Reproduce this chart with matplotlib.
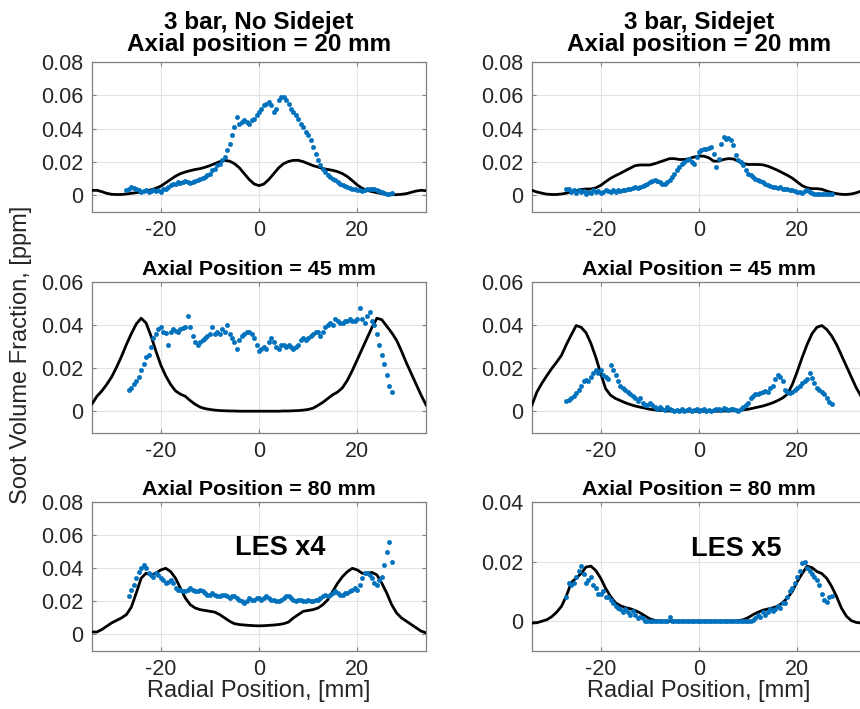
import numpy as np
import matplotlib
matplotlib.use("Agg")
import matplotlib.pyplot as plt
from matplotlib.ticker import FuncFormatter

plt.rcParams['font.family'] = ['Liberation Sans', 'DejaVu Sans']
plt.rcParams['axes.unicode_minus'] = False

# LES profiles, sampled every 1 mm from -34 to 34 mm
les_start, les_step = -34.0, 1.0
les_nosj_20 = [0.003, 0.003, 0.0022, 0.0012, 0.0006, 0.0005, 0.0005, 0.0008, 0.0012, 0.0016,
               0.002, 0.0026, 0.0033, 0.0042, 0.0055, 0.0075, 0.0095, 0.0115, 0.013, 0.014,
               0.0148, 0.0155, 0.016, 0.0168, 0.0178, 0.019, 0.0202, 0.021, 0.0205, 0.019,
               0.0165, 0.013, 0.0095, 0.0068, 0.0058, 0.0068, 0.0095, 0.013, 0.0165, 0.019,
               0.0203, 0.021, 0.021, 0.0202, 0.019, 0.0178, 0.017, 0.016, 0.0155, 0.015,
               0.0142, 0.013, 0.0112, 0.0088, 0.0062, 0.0042, 0.003, 0.0022, 0.0016, 0.001,
               0.0006, 0.0004, 0.0004, 0.0006, 0.001, 0.0018, 0.0026, 0.003, 0.0028]
les_sj_20 = [0.003, 0.002, 0.0013, 0.0007, 0.0005, 0.0005, 0.0008, 0.0013, 0.002, 0.0028,
             0.0035, 0.0038, 0.0038, 0.0045, 0.006, 0.0082, 0.0102, 0.0118, 0.0132, 0.0148,
             0.0163, 0.0178, 0.0182, 0.0182, 0.0182, 0.019, 0.020, 0.021, 0.022, 0.022,
             0.0215, 0.0215, 0.022, 0.023, 0.0235, 0.0235, 0.0225, 0.0205, 0.0205, 0.0215,
             0.022, 0.0218, 0.0205, 0.019, 0.0185, 0.0185, 0.0185, 0.0183, 0.0175, 0.0163,
             0.015, 0.0135, 0.012, 0.0103, 0.008, 0.0058, 0.0045, 0.004, 0.004, 0.0036,
             0.0026, 0.0017, 0.001, 0.0006, 0.0005, 0.0008, 0.0015, 0.0025, 0.0035]
les_nosj_45 = [0.0035, 0.007, 0.0095, 0.0125, 0.016, 0.0205, 0.0255, 0.031, 0.036, 0.0405,
               0.0432, 0.041, 0.035, 0.028, 0.0215, 0.0165, 0.0125, 0.0095, 0.008, 0.007,
               0.005, 0.0033, 0.002, 0.0013, 0.0009, 0.0006, 0.0004, 0.0003, 0.0002, 0.0002,
               0.0001, 0.0001, 0.0001, 0.0001, 0.0001, 0.0001, 0.0001, 0.0001, 0.0001, 0.0002,
               0.0002, 0.0003, 0.0004, 0.0006, 0.0009, 0.0015, 0.0028, 0.0042, 0.006, 0.0077,
               0.009, 0.011, 0.0145, 0.019, 0.024, 0.029, 0.034, 0.039, 0.0432, 0.0425,
               0.0395, 0.0365, 0.033, 0.028, 0.0225, 0.0175, 0.0125, 0.0075, 0.003]
les_sj_45 = [0.003, 0.009, 0.013, 0.0165, 0.0198, 0.0228, 0.026, 0.031, 0.0355, 0.0398,
             0.039, 0.0365, 0.0315, 0.025, 0.0175, 0.0105, 0.0075, 0.006, 0.005, 0.004,
             0.0032, 0.0025, 0.002, 0.0015, 0.001, 0.0007, 0.0005, 0.0003, 0.0002, 0.0002,
             0.0001, 0.0001, 0.0001, 0.0001, 0.0001, 0.0001, 0.0001, 0.0001, 0.0001, 0.0002,
             0.0002, 0.0003, 0.0005, 0.0007, 0.001, 0.0015, 0.002, 0.0025, 0.0032, 0.004,
             0.005, 0.0062, 0.008, 0.0125, 0.0185, 0.025, 0.031, 0.036, 0.039, 0.0398,
             0.038, 0.035, 0.031, 0.026, 0.021, 0.016, 0.011, 0.007, 0.003]
les_nosj_80 = [0.0015, 0.0015, 0.003, 0.005, 0.007, 0.0085, 0.010, 0.012, 0.0165, 0.025,
               0.034, 0.037, 0.036, 0.037, 0.039, 0.040, 0.038, 0.034, 0.028, 0.022,
               0.018, 0.016, 0.015, 0.0145, 0.014, 0.0135, 0.012, 0.010, 0.008, 0.0065,
               0.006, 0.0057, 0.0055, 0.0053, 0.0052, 0.0053, 0.0055, 0.0057, 0.006, 0.0065,
               0.0075, 0.010, 0.012, 0.014, 0.0145, 0.015, 0.016, 0.018, 0.021, 0.026,
               0.031, 0.035, 0.038, 0.040, 0.039, 0.037, 0.037, 0.0375, 0.036, 0.031,
               0.025, 0.018, 0.013, 0.010, 0.008, 0.006, 0.004, 0.002, 0.001]
les_sj_80 = [-0.0006, -0.0005, 0.0, 0.0005, 0.0015, 0.003, 0.005, 0.0085, 0.013, 0.0145,
             0.016, 0.0182, 0.0185, 0.017, 0.0144, 0.011, 0.0083, 0.0062, 0.0052, 0.0046,
             0.0042, 0.0036, 0.0028, 0.0018, 0.0008, 0.0003, 0.0001, 0.0, 0.0, 0.0,
             0.0, 0.0, 0.0, 0.0, 0.0, 0.0, 0.0, 0.0, 0.0, 0.0,
             0.0, 0.0, 0.0002, 0.0005, 0.0012, 0.0022, 0.003, 0.0037, 0.0041, 0.0045,
             0.005, 0.0062, 0.0078, 0.010, 0.0133, 0.016, 0.0185, 0.018, 0.0167, 0.016,
             0.0144, 0.0117, 0.0083, 0.0044, 0.0017, 0.0002, -0.0004, -0.0006, -0.0006]

# measured soot volume fraction, every 0.5 mm
exp_step = 0.5
exp_nosj_20_start = -27.0
exp_nosj_20 = [0.003, 0.004, 0.005, 0.0045, 0.004, 0.003, 0.002, 0.0025, 0.003, 0.002,
               0.0025, 0.003, 0.0025, 0.003, 0.002, 0.0035, 0.004, 0.005, 0.006, 0.0065,
               0.007, 0.008, 0.0075, 0.008, 0.0085, 0.008, 0.0075, 0.008, 0.0085, 0.009,
               0.010, 0.0105, 0.011, 0.012, 0.013, 0.015, 0.016, 0.018, 0.019, 0.021,
               0.023, 0.027, 0.031, 0.036, 0.041, 0.047, 0.043, 0.044, 0.045, 0.044,
               0.043, 0.045, 0.046, 0.048, 0.050, 0.052, 0.054, 0.055, 0.056, 0.054,
               0.050, 0.052, 0.057, 0.059, 0.059, 0.057, 0.055, 0.052, 0.050, 0.048,
               0.046, 0.043, 0.041, 0.038, 0.036, 0.033, 0.029, 0.025, 0.021, 0.018,
               0.016, 0.014, 0.012, 0.011, 0.010, 0.009, 0.008, 0.007, 0.006, 0.0055,
               0.005, 0.0045, 0.004, 0.0035, 0.003, 0.003, 0.0025, 0.003, 0.0035, 0.004,
               0.0035, 0.004, 0.003, 0.0025, 0.002, 0.0015, 0.001, 0.001, 0.0015]
exp_sj_20_start = -27.0
exp_sj_20 = [0.004, 0.0035, 0.002, 0.003, 0.0015, 0.003, 0.002, 0.0025, 0.001, 0.002,
             0.0015, 0.003, 0.002, 0.0025, 0.0015, 0.002, 0.003, 0.0025, 0.002, 0.003,
             0.002, 0.003, 0.0025, 0.003, 0.003, 0.0035, 0.004, 0.0045, 0.005, 0.0045,
             0.005, 0.0055, 0.006, 0.007, 0.008, 0.0085, 0.009, 0.0085, 0.008, 0.007,
             0.0065, 0.008, 0.009, 0.011, 0.013, 0.015, 0.017, 0.019, 0.020, 0.021,
             0.0215, 0.020, 0.019, 0.023, 0.026, 0.027, 0.028, 0.028, 0.0285, 0.029,
             0.025, 0.017, 0.022, 0.031, 0.035, 0.034, 0.0345, 0.033, 0.030, 0.024,
             0.021, 0.020, 0.018, 0.015, 0.013, 0.012, 0.011, 0.010, 0.009, 0.0085,
             0.008, 0.007, 0.006, 0.0055, 0.005, 0.005, 0.0045, 0.005, 0.004, 0.004,
             0.0035, 0.003, 0.003, 0.0025, 0.002, 0.002, 0.0015, 0.0025, 0.003, 0.002,
             0.0015, 0.001, 0.001, 0.0005, 0.0005, 0.0005, 0.0005, 0.0005, 0.0005]
exp_nosj_45_start = -26.5
exp_nosj_45 = [0.010, 0.011, 0.0125, 0.014, 0.016, 0.019, 0.022, 0.025, 0.026, 0.030,
               0.034, 0.036, 0.038, 0.039, 0.037, 0.0365, 0.031, 0.037, 0.038, 0.0375,
               0.037, 0.038, 0.0385, 0.039, 0.044, 0.039, 0.035, 0.032, 0.031, 0.032,
               0.033, 0.034, 0.035, 0.036, 0.039, 0.036, 0.037, 0.036, 0.038, 0.037,
               0.040, 0.036, 0.034, 0.032, 0.029, 0.033, 0.035, 0.036, 0.037, 0.037,
               0.036, 0.034, 0.031, 0.028, 0.029, 0.030, 0.029, 0.032, 0.034, 0.032,
               0.030, 0.029, 0.031, 0.031, 0.030, 0.031, 0.030, 0.029, 0.030, 0.031,
               0.033, 0.034, 0.033, 0.034, 0.035, 0.036, 0.037, 0.037, 0.035, 0.037,
               0.039, 0.040, 0.041, 0.040, 0.043, 0.042, 0.041, 0.041, 0.042, 0.042,
               0.043, 0.042, 0.042, 0.043, 0.048, 0.043, 0.041, 0.044, 0.046, 0.042,
               0.040, 0.036, 0.031, 0.026, 0.022, 0.017, 0.012, 0.009]
exp_sj_45_start = -27.0
exp_sj_45 = [0.005, 0.0055, 0.006, 0.007, 0.0085, 0.010, 0.012, 0.014, 0.0145, 0.014,
             0.016, 0.018, 0.019, 0.018, 0.019, 0.017, 0.016, 0.015, 0.0215, 0.019,
             0.017, 0.014, 0.012, 0.011, 0.010, 0.009, 0.008, 0.007, 0.006, 0.005,
             0.006, 0.004, 0.003, 0.003, 0.004, 0.003, 0.002, 0.001, 0.002, 0.001,
             0.0005, 0.002, 0.001, 0.0005, 0.0, 0.0005, 0.0, 0.001, 0.0, 0.0005,
             0.001, 0.0, 0.0005, 0.001, 0.0, 0.0005, 0.001, 0.0, 0.0005, 0.0,
             0.0005, 0.001, 0.001, 0.0005, 0.0015, 0.001, 0.0005, 0.001, 0.001, 0.0005,
             0.0, 0.001, 0.002, 0.003, 0.004, 0.006, 0.007, 0.008, 0.008, 0.0085,
             0.009, 0.0095, 0.009, 0.011, 0.012, 0.015, 0.017, 0.016, 0.014, 0.010,
             0.009, 0.0085, 0.009, 0.010, 0.011, 0.012, 0.013, 0.014, 0.015, 0.018,
             0.0155, 0.013, 0.011, 0.010, 0.009, 0.008, 0.006, 0.0045, 0.0035]
exp_nosj_80_start = -26.5
exp_nosj_80 = [0.023, 0.027, 0.030, 0.034, 0.038, 0.040, 0.042, 0.040, 0.037, 0.036,
               0.035, 0.037, 0.036, 0.034, 0.033, 0.031, 0.032, 0.033, 0.031, 0.028,
               0.027, 0.027, 0.026, 0.026, 0.027, 0.028, 0.027, 0.026, 0.026, 0.027,
               0.026, 0.025, 0.024, 0.024, 0.025, 0.024, 0.023, 0.023, 0.024, 0.024,
               0.023, 0.022, 0.023, 0.023, 0.022, 0.021, 0.020, 0.019, 0.020, 0.022,
               0.021, 0.021, 0.022, 0.022, 0.021, 0.022, 0.023, 0.022, 0.021, 0.021,
               0.020, 0.020, 0.021, 0.022, 0.023, 0.023, 0.022, 0.021, 0.020, 0.021,
               0.021, 0.020, 0.020, 0.021, 0.020, 0.020, 0.021, 0.021, 0.022, 0.023,
               0.024, 0.023, 0.024, 0.025, 0.026, 0.025, 0.024, 0.024, 0.025, 0.025,
               0.026, 0.027, 0.028, 0.027, 0.030, 0.034, 0.037, 0.037, 0.036, 0.034,
               0.031, 0.030, 0.033, 0.035, 0.042, 0.050, 0.056, 0.044]
exp_sj_80_start = -27.0
exp_sj_80 = [0.008, 0.013, 0.012, 0.013, 0.015, 0.017, 0.0185, 0.016, 0.013, 0.014,
             0.015, 0.012, 0.011, 0.009, 0.009, 0.010, 0.008, 0.008, 0.007, 0.006,
             0.005, 0.0045, 0.004, 0.003, 0.004, 0.003, 0.002, 0.0035, 0.002, 0.001,
             0.0015, 0.001, 0.0, 0.0, 0.0, 0.0, 0.0, 0.0, 0.0, 0.0,
             0.0, 0.0, 0.0015, 0.0, 0.0, 0.0, 0.0, 0.0, 0.0, 0.0,
             0.0, 0.0, 0.0, 0.0, 0.0, 0.0, 0.0, 0.0, 0.0, 0.0,
             0.0, 0.0, 0.0, 0.0, 0.0, 0.0, 0.0, 0.0, 0.0, 0.0,
             0.0, 0.0, 0.0, 0.0, 0.0, 0.0, 0.0005, 0.001, 0.002, 0.0015,
             0.003, 0.002, 0.003, 0.004, 0.0035, 0.004, 0.005, 0.0045, 0.006, 0.006,
             0.008, 0.010, 0.011, 0.013, 0.015, 0.017, 0.0195, 0.020, 0.018, 0.017,
             0.016, 0.015, 0.014, 0.012, 0.009, 0.007, 0.0065, 0.008, 0.0085]

titles = [["3 bar, No Sidejet\nAxial position = 20 mm", "3 bar, Sidejet\nAxial position = 20 mm"],
          ["Axial Position = 45 mm", "Axial Position = 45 mm"],
          ["Axial Position = 80 mm", "Axial Position = 80 mm"]]
les = [[les_nosj_20, les_sj_20], [les_nosj_45, les_sj_45], [les_nosj_80, les_sj_80]]
exp = [[(exp_nosj_20_start, exp_nosj_20), (exp_sj_20_start, exp_sj_20)],
       [(exp_nosj_45_start, exp_nosj_45), (exp_sj_45_start, exp_sj_45)],
       [(exp_nosj_80_start, exp_nosj_80), (exp_sj_80_start, exp_sj_80)]]
ytop = [[0.08, 0.08], [0.06, 0.06], [0.08, 0.04]]
les_scale_note = {(2, 0): ("LES x4", 4.3, 0.052), (2, 1): ("LES x5", 7.5, 0.0242)}

BLUE = '#0072BD'
AXC = '#808080'
TXT = '#262626'

fig = plt.figure(figsize=(8.6, 7.09), dpi=100)
col_left = [0.107, 0.6186]
width = 0.3884
row_bottom = [0.701, 0.3893, 0.0818]
row_height = [0.2116, 0.213, 0.210]

for i in range(3):
    for j in range(2):
        ax = fig.add_axes([col_left[j], row_bottom[i], width, row_height[i]])
        y_les = np.array(les[i][j])
        r_les = les_start + les_step * np.arange(len(y_les))
        start, vals = exp[i][j]
        y_exp = np.array(vals)
        r_exp = start + exp_step * np.arange(len(y_exp))

        ax.plot(r_les, y_les, color='black', lw=2, zorder=3)
        ax.plot(r_exp, y_exp, 'o', color=BLUE, ms=3.1, mew=0.4, zorder=4)

        ax.set_xlim(-34, 34)
        ax.set_ylim(-0.01, ytop[i][j])
        ax.set_xticks([-20, 0, 20])
        ax.set_yticks(np.arange(0, ytop[i][j] + 0.001, 0.02))
        ax.yaxis.set_major_formatter(FuncFormatter(lambda v, p: '%g' % round(v, 3)))
        ax.grid(True, color='#e3e3e3', lw=0.8, zorder=0)
        ax.set_axisbelow(True)
        ax.tick_params(direction='in', length=3, top=True, right=True, color=AXC,
                       labelcolor=TXT, labelsize=15.5, pad=6)
        for s in ax.spines.values():
            s.set_color(AXC)
            s.set_linewidth(0.9)

        if i == 0:
            ax.set_title(titles[i][j], fontsize=17.5, fontweight='bold', pad=8, linespacing=0.95)
        else:
            ax.set_title(titles[i][j], fontsize=15.4, fontweight='bold', pad=5)

        if i == 2:
            ax.set_xlabel('Radial Position, [mm]', fontsize=17, color=TXT, labelpad=0)
        if (i, j) in les_scale_note:
            note, nx, ny = les_scale_note[(i, j)]
            ax.text(nx, ny, note, fontsize=19.5, fontweight='bold', ha='center', va='center')

fig.text(0.025, 0.5, 'Soot Volume Fraction, [ppm]', rotation=90, ha='center', va='center',
         fontsize=17, color=TXT)

fig.savefig('out.png', dpi=100)
